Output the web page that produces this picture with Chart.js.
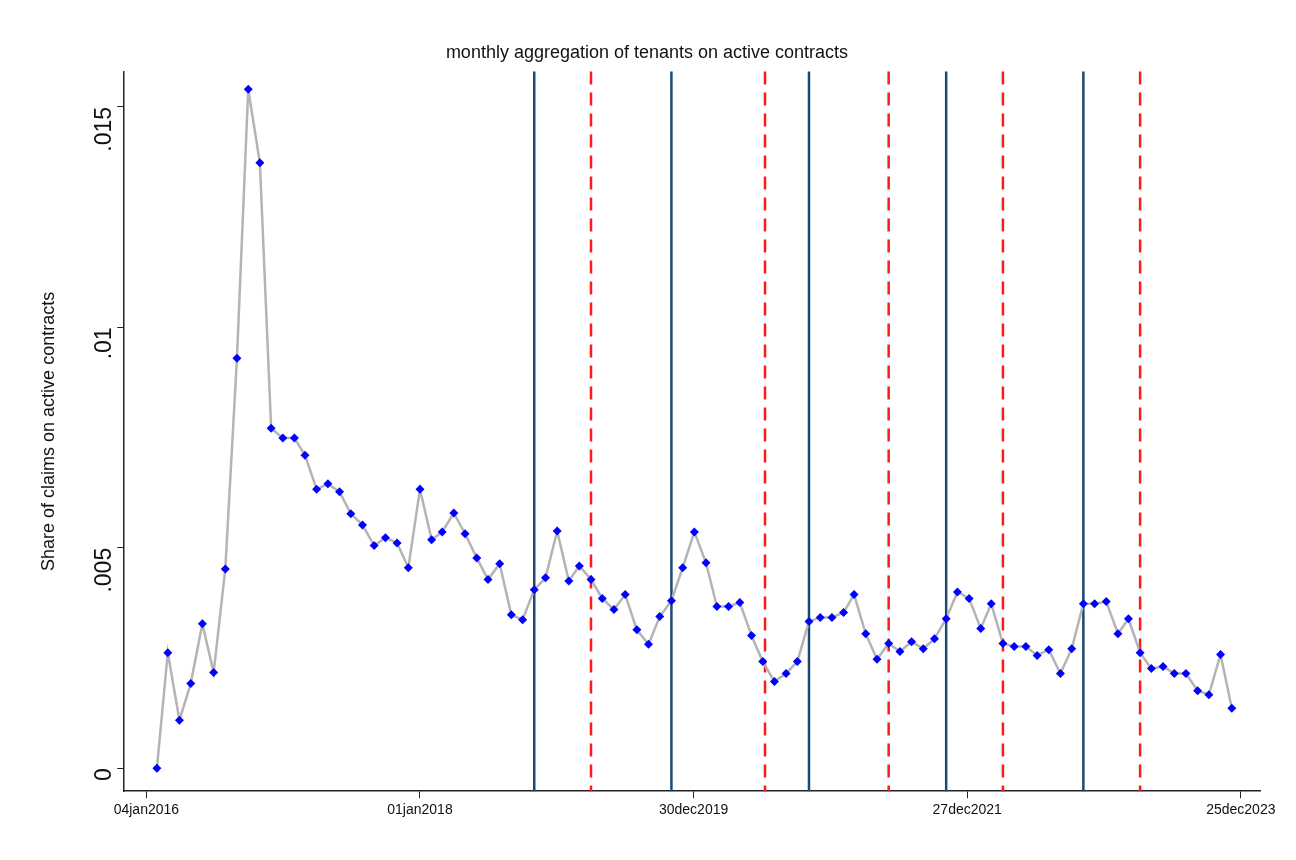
<!DOCTYPE html>
<html>
<head>
<meta charset="utf-8">
<script src="https://cdn.jsdelivr.net/npm/chart.js@4/dist/chart.umd.min.js"></script>
<style>
  html, body { margin: 0; padding: 0; background: #fff; }
  #wrap { width: 1296px; height: 860px; }
</style>
</head>
<body>
<div id="wrap"><canvas id="c"></canvas></div>
<script>
// monthly series, Feb 2016 .. Dec 2023
const START_MONTH = '2016-02';
const shares = [
  0, .00262, .00109, .00192, .00328, .00217, .00452, .0093, .0154, .01373,
  .00771, .00749, .00749, .0071, .00633, .00645, .00627, .00577, .00552, .00505,
  .00523, .00511, .00455, .00633, .00518, .00536, .00579, .00532, .00477, .00428,
  .00464, .00348, .00337, .00405, .00432, .00538, .00425, .00459, .00428, .00385,
  .0036, .00394, .00314, .00281, .00344, .0038, .00455, .00536, .00466, .00367,
  .00367, .00376, .00301, .00242, .00197, .00215, .00242, .00333, .00342, .00342,
  .00353, .00394, .00305, .00247, .00283, .00265, .00287, .00271, .00294, .00339,
  .004, .00385, .00317, .00373, .00283, .00276, .00276, .00256, .00269, .00215,
  .00271, .00373, .00373, .00378, .00305, .00339, .00262, .00226, .00231, .00215,
  .00215, .00176, .00167, .00258, .00136
];
const xTickDates = ['2016-01-04', '2018-01-01', '2019-12-30', '2021-12-27', '2023-12-25'];
const xTickLabels = ['04jan2016', '01jan2018', '30dec2019', '27dec2021', '25dec2023'];
const yTicks = [0, 0.005, 0.01, 0.015];
const yTickLabels = ['0', '.005', '.01', '.015'];
const solidLines = ['2018-11-01', '2019-11-01', '2020-11-01', '2021-11-01', '2022-11-01'];
const dashedLines = ['2019-04-01', '2020-07-07', '2021-06-01', '2022-04-01', '2023-04-01'];

const ORIGIN = Date.UTC(2016, 0, 4);
const DAY = 86400000;
const dayNum = s => { const [y, m, d] = s.split('-').map(Number); return (Date.UTC(y, m - 1, d || 1) - ORIGIN) / DAY; };

const [sy, sm] = START_MONTH.split('-').map(Number);
const points = shares.map((v, i) => ({ x: (Date.UTC(sy, sm - 1 + i, 1) - ORIGIN) / DAY, y: v }));
const xTickVals = xTickDates.map(dayNum);

const vlines = {
  id: 'vlines',
  beforeDatasetsDraw(chart) {
    const { ctx, chartArea: a, scales: { x } } = chart;
    ctx.save();
    ctx.lineWidth = 2.5;
    ctx.strokeStyle = '#1a4a72';
    solidLines.forEach(d => {
      const px = x.getPixelForValue(dayNum(d));
      ctx.beginPath(); ctx.moveTo(px, a.top); ctx.lineTo(px, a.bottom); ctx.stroke();
    });
    ctx.strokeStyle = '#ff1a1a';
    ctx.setLineDash([13, 8]);
    dashedLines.forEach(d => {
      const px = x.getPixelForValue(dayNum(d));
      ctx.beginPath(); ctx.moveTo(px, a.top); ctx.lineTo(px, a.bottom); ctx.stroke();
    });
    ctx.restore();
  }
};

const FONT = 'Liberation Sans';

new Chart(document.getElementById('c'), {
  type: 'line',
  data: {
    datasets: [{
      data: points,
      borderColor: '#b4b4b4',
      borderWidth: 2.5,
      pointStyle: 'rectRot',
      pointRadius: 4.5,
      pointBackgroundColor: '#0000ff',
      pointBorderColor: '#0000ff',
      pointBorderWidth: 0,
      tension: 0,
    }],
  },
  options: {
    responsive: true,
    maintainAspectRatio: false,
    animation: false,
    layout: { padding: { left: 34, right: 36, top: 12, bottom: 37 } },
    plugins: {
      legend: { display: false },
      tooltip: { enabled: false },
      title: {
        display: true,
        text: 'monthly aggregation of tenants on active contracts',
        color: '#111',
        font: { family: FONT, size: 18, weight: 'normal' },
        padding: { top: 30, bottom: 8 },
      },
    },
    scales: {
      x: {
        type: 'linear',
        min: -59,
        max: 2963,
        afterBuildTicks: ax => { ax.ticks = xTickVals.map(v => ({ value: v })); },
        ticks: {
          callback: (v) => xTickLabels[xTickVals.indexOf(v)] || '',
          color: '#111',
          font: { family: FONT, size: 14 },
          maxRotation: 0,
          padding: 4,
        },
        grid: { drawOnChartArea: false, drawTicks: true, tickLength: 7, color: '#222' },
        border: { color: '#222', width: 1.5 },
      },
      y: {
        min: -0.00052,
        max: 0.0158,
        afterBuildTicks: ax => { ax.ticks = yTicks.map(v => ({ value: v })); },
        ticks: {
          callback: (v) => yTickLabels[yTicks.indexOf(v)] ?? '',
          color: '#111',
          font: { family: FONT, size: 23 },
          minRotation: 90,
          maxRotation: 90,
          padding: 13,
        },
        title: {
          display: true,
          text: 'Share of claims on active contracts',
          color: '#111',
          font: { family: FONT, size: 18 },
          padding: { bottom: 4 },
        },
        grid: { drawOnChartArea: false, drawTicks: true, tickLength: 7, color: '#222' },
        border: { color: '#222', width: 1.5 },
      },
    },
  },
  plugins: [vlines],
});
</script>
</body>
</html>
